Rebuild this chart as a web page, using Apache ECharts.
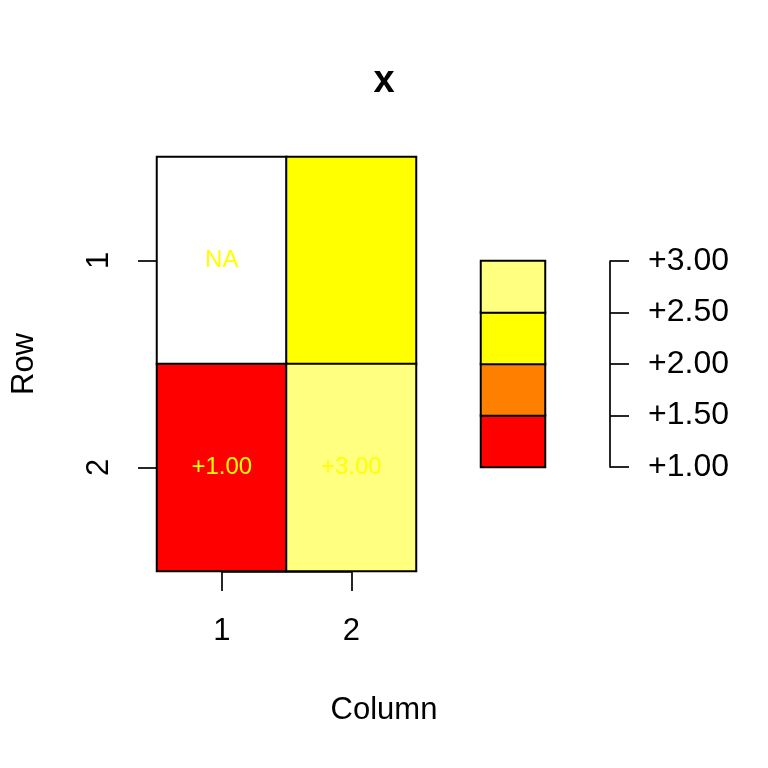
<!DOCTYPE html>
<html>
<head>
<meta charset="utf-8">
<script src="https://cdn.jsdelivr.net/npm/echarts@6/dist/echarts.min.js"></script>
<style>html,body{margin:0;padding:0;background:#fff}#c{width:768px;height:768px}</style>
</head>
<body>
<div id="c"></div>
<script>
// ---- data ----
var rowLabels = ['1', '2'];
var colLabels = ['1', '2'];
var row1Values = [null, 2];
var row2Values = [1, 3];
var legendBreaks = [1, 1.5, 2, 2.5, 3];
var legendColors = ['#FF0000', '#FF8000', '#FFFF00', '#FFFF80'];
var legendTicks = [1, 1.5, 2, 2.5, 3];
var titleText = 'x';
var xName = 'Column';
var yName = 'Row';

var matrix = [row1Values, row2Values];
var FONT = 'Liberation Sans, Arial, sans-serif';

function binColor(v) {
  if (v === null) return '#FFFFFF';
  for (var i = 0; i < legendColors.length; i++) {
    if (v >= legendBreaks[i] && (v < legendBreaks[i + 1] || i === legendColors.length - 1)) return legendColors[i];
  }
  return '#FFFFFF';
}
function fmt(v) { return v === null ? 'NA' : '+' + v.toFixed(2); }

var cellData = [];
matrix.forEach(function (row, ri) {
  row.forEach(function (v, ci) {
    cellData.push({ value: [ci, ri, v === null ? 0 : v], txt: fmt(v), itemStyle: { color: binColor(v) } });
  });
});
var binLabels = legendColors.map(function (c, i) { return legendBreaks[i] + '-' + legendBreaks[i + 1]; });
var legendData = legendColors.map(function (c, i) {
  return { value: [0, i, (legendBreaks[i] + legendBreaks[i + 1]) / 2], itemStyle: { color: c } };
});

var chart = echarts.init(document.getElementById('c'), null, { renderer: 'canvas' });
var axisLineStyle = { color: '#000', width: 1.7 };
chart.setOption({
  animation: false,
  backgroundColor: '#fff',
  title: [
    {
      text: titleText, left: 'center', top: 58,
      textStyle: { fontFamily: FONT, fontSize: 38, fontWeight: 'bold', color: '#000' }
    },
    {
      text: xName, left: 'center', top: 690,
      textStyle: { fontFamily: FONT, fontSize: 31, fontWeight: 'normal', color: '#000' }
    }
  ],
  grid: [
    { left: 157, top: 157, width: 259, height: 414 },          // heatmap
    { left: 221.75, top: 260.5, width: 129.5, height: 207 },    // R-style axes
    { left: 481, top: 261, width: 64, height: 206 },            // legend boxes
    { left: 481, top: 261, width: 129, height: 206 }            // legend axis
  ],
  xAxis: [
    { type: 'category', gridIndex: 0, data: colLabels, show: false },
    {
      type: 'value', gridIndex: 1, min: 1, max: 2, interval: 1, position: 'bottom', offset: 104.5,
      axisLine: { show: true, onZero: false, lineStyle: axisLineStyle },
      axisTick: { show: true, length: 19, lineStyle: axisLineStyle },
      axisLabel: { fontFamily: FONT, fontSize: 31, color: '#000', margin: 44,
        formatter: function (v) { return colLabels[v - 1]; } },
      splitLine: { show: false }
    },
    { type: 'category', gridIndex: 2, data: ['k'], show: false },
    { type: 'value', gridIndex: 3, min: 0, max: 1, show: false }
  ],
  yAxis: [
    { type: 'category', gridIndex: 0, data: rowLabels, inverse: true, show: false },
    {
      type: 'value', gridIndex: 1, min: 1, max: 2, interval: 1, inverse: true, position: 'left', offset: 64.75,
      name: yName, nameLocation: 'middle', nameGap: 117, nameRotate: 90,
      nameTextStyle: { fontFamily: FONT, fontSize: 31, color: '#000' },
      axisLine: { show: true, onZero: false, lineStyle: axisLineStyle },
      axisTick: { show: true, length: 19, lineStyle: axisLineStyle },
      axisLabel: { fontFamily: FONT, fontSize: 31, color: '#000', margin: 42, rotate: 90,
        formatter: function (v) { return rowLabels[v - 1]; } },
      splitLine: { show: false }
    },
    { type: 'category', gridIndex: 2, data: binLabels, show: false },
    {
      type: 'value', gridIndex: 3, min: legendTicks[0], max: legendTicks[legendTicks.length - 1], interval: 0.5,
      position: 'right',
      axisLine: { show: true, onZero: false, lineStyle: axisLineStyle },
      axisTick: { show: true, length: 19, lineStyle: axisLineStyle },
      axisLabel: { fontFamily: FONT, fontSize: 32, color: '#000', margin: 38, padding: [4, 0, 0, 0],
        formatter: function (v) { return '+' + v.toFixed(2); } },
      splitLine: { show: false }
    }
  ],
  series: [
    {
      type: 'heatmap', xAxisIndex: 0, yAxisIndex: 0, data: cellData,
      itemStyle: { borderColor: '#000', borderWidth: 2 },
      label: { show: true, color: '#FFFF00', fontFamily: FONT, fontSize: 24,
        formatter: function (p) { return p.data.txt; } },
      emphasis: { disabled: true }
    },
    {
      type: 'heatmap', xAxisIndex: 2, yAxisIndex: 2, data: legendData,
      itemStyle: { borderColor: '#000', borderWidth: 2 },
      label: { show: false },
      emphasis: { disabled: true }
    }
  ]
});
</script>
</body>
</html>
